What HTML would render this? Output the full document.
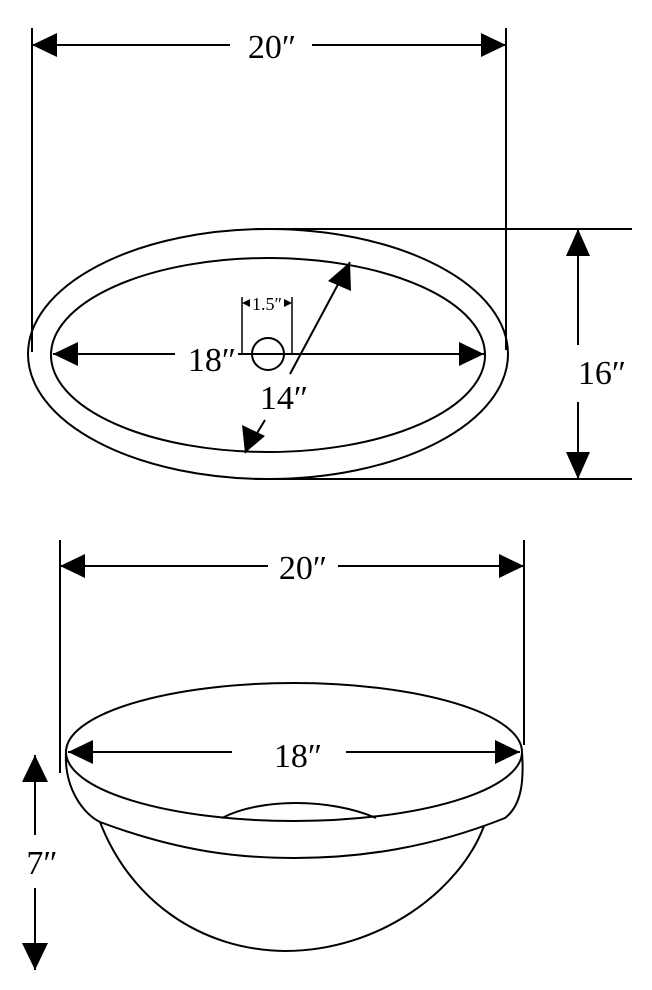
<!DOCTYPE html>
<html><head><style>body{margin:0;background:#fff}svg{display:block}</style></head><body>
<svg width="652" height="990" viewBox="0 0 652 990" xmlns="http://www.w3.org/2000/svg">
<g stroke="#000" stroke-width="2" fill="none">
<!-- top view -->
<line x1="32" y1="28" x2="32" y2="352"/>
<line x1="506" y1="28" x2="506" y2="350"/>
<line x1="32" y1="45" x2="230" y2="45"/>
<line x1="312" y1="45" x2="506" y2="45"/>
<ellipse cx="268" cy="354" rx="240" ry="125"/>
<ellipse cx="268" cy="355" rx="217" ry="97"/>
<line x1="255" y1="229" x2="632" y2="229"/>
<line x1="255" y1="479" x2="632" y2="479"/>
<line x1="578" y1="229" x2="578" y2="345"/>
<line x1="578" y1="402" x2="578" y2="479"/>
<line x1="53" y1="354" x2="175" y2="354"/>
<line x1="238" y1="354" x2="484" y2="354"/>
<circle cx="268" cy="354" r="16"/>
<line x1="242" y1="297" x2="242" y2="354" stroke-width="1.5"/>
<line x1="292" y1="297" x2="292" y2="354" stroke-width="1.5"/>
<line x1="290" y1="374" x2="350" y2="262"/>
<line x1="265" y1="420" x2="245" y2="453"/>
<!-- side view -->
<line x1="60" y1="540" x2="60" y2="773"/>
<line x1="524" y1="540" x2="524" y2="745"/>
<line x1="60" y1="566" x2="268" y2="566"/>
<line x1="338" y1="566" x2="524" y2="566"/>
<ellipse cx="294" cy="752" rx="228" ry="69"/>
<path d="M66,752 C64,790 85,815 100,822 C180,852 240,858 294,858 C360,858 430,848 505,818 C522,805 524,780 522,752"/>
<path d="M100,822 C130,900 200,950 285,951 C380,951 460,890 484,826"/>
<path d="M222,818 C260,798 330,798 376,818"/>
<line x1="68" y1="752" x2="232" y2="752"/>
<line x1="346" y1="752" x2="520" y2="752"/>
<line x1="35" y1="755" x2="35" y2="835"/>
<line x1="35" y1="888" x2="35" y2="970"/>
</g>
<g fill="#000">
<path d="M32,45 L57,33 L57,57z"/><path d="M506,45 L481,33 L481,57z"/>
<path d="M578,229 L566,256 L590,256z"/><path d="M578,479 L566,452 L590,452z"/>
<path d="M53,354 L78,342 L78,366z"/><path d="M484,354 L459,342 L459,366z"/>
<path d="M242,303 L250,299 L250,307z"/><path d="M292,303 L284,299 L284,307z"/>
<path d="M350,262 L351,291 L328,281z"/>
<path d="M245,453 L242,425 L265,436z"/>
<path d="M60,566 L85,554 L85,578z"/><path d="M524,566 L499,554 L499,578z"/>
<path d="M68,752 L93,740 L93,764z"/><path d="M520,752 L495,740 L495,764z"/>
<path d="M35,755 L22,782 L48,782z"/><path d="M35,970 L22,943 L48,943z"/>
</g>
<g font-family="Liberation Serif, serif" font-size="34" text-anchor="middle">
<text x="272" y="58">20″</text>
<text x="212" y="371">18″</text>
<text x="284" y="409">14″</text>
<text x="602" y="384">16″</text>
<text x="267" y="310" font-size="18">1.5″</text>
<text x="303" y="579">20″</text>
<text x="298" y="767">18″</text>
<text x="42" y="874">7″</text>
</g>
</svg>
</body></html>
